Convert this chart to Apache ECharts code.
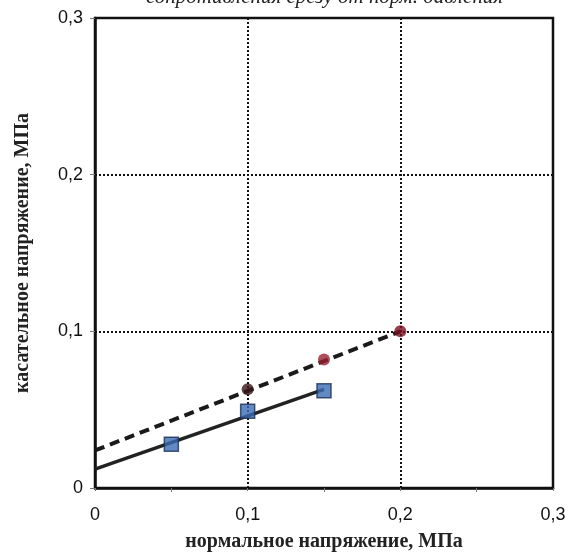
<!DOCTYPE html>
<html><head><meta charset="utf-8">
<script src="https://cdn.jsdelivr.net/npm/echarts@6/dist/echarts.min.js"></script>
<style>html,body{margin:0;padding:0;background:#fff}#c{width:569px;height:557px}</style>
</head><body><div id="c"></div>
<script>
var xTicks = [0, 0.1, 0.2, 0.3];
var yTicks = [0, 0.1, 0.2, 0.3];
var squaresX = [0.05, 0.1, 0.15];
var squaresY = [0.028, 0.049, 0.062];
var circlesX = [0.1, 0.15, 0.2];
var circlesY = [0.063, 0.082, 0.1];
var circleColors = ['#3a1518', '#9a2232', '#7c1020'];
var trendSolidX = [0, 0.15];
var trendSolidY = [0.012, 0.063];
var trendDashX = [0, 0.2];
var trendDashY = [0.024, 0.1];

function pairs(xs, ys){ return xs.map(function(x,i){ return [x, ys[i]]; }); }
function fmt(v){ return String(+v.toFixed(2)).replace('.', ','); }

var chart = echarts.init(document.getElementById('c'));
chart.setOption({
  animation: false,
  backgroundColor: '#fff',
  graphic: [{
    type: 'text', left: 146, top: -13,
    style: { text: 'сопротивления срезу от норм. давления', font: 'italic 21px "Liberation Serif"', fill: '#222' }
  }],
  grid: { left: 95, right: 16, top: 18, bottom: 65, show: true, borderColor: '#111', borderWidth: 2.5 },
  xAxis: {
    type: 'value', min: 0, max: 0.3, interval: 0.1,
    name: 'нормальное напряжение, МПа', nameLocation: 'middle', nameGap: 44,
    nameTextStyle: { fontFamily: 'Liberation Serif', fontWeight: 'bold', fontSize: 20, color: '#222' },
    axisLine: { show: true, lineStyle: { color: '#111', width: 2.5 } },
    axisTick: { show: true, length: 3, lineStyle: { color: '#777' } },
    minorTick: { show: true, splitNumber: 2, length: 4, lineStyle: { color: '#777' } },
    axisLabel: { margin: 18, fontFamily: 'Liberation Sans', fontSize: 18, color: '#111', formatter: fmt },
    splitLine: { show: true, lineStyle: { color: '#111', type: [2, 2], width: 2 } }
  },
  yAxis: {
    type: 'value', min: 0, max: 0.3, interval: 0.1,
    name: 'касательное напряжение, МПа', nameLocation: 'middle', nameGap: 62,
    nameTextStyle: { fontFamily: 'Liberation Serif', fontWeight: 'bold', fontSize: 20, color: '#222' },
    axisLine: { show: true, lineStyle: { color: '#111', width: 2.5 } },
    axisTick: { show: true, inside: false, length: 5, lineStyle: { color: '#777' } },
    axisLabel: { margin: 12, fontFamily: 'Liberation Sans', fontSize: 18, color: '#111', formatter: fmt },
    splitLine: { show: true, lineStyle: { color: '#111', type: [2, 2], width: 2 } }
  },
  series: [
    { type: 'line', data: pairs(trendSolidX, trendSolidY), symbol: 'none',
      lineStyle: { color: '#222', width: 3.5 }, z: 2 },
    { type: 'line', data: pairs(trendDashX, trendDashY), symbol: 'none',
      lineStyle: { color: '#1a1a1a', width: 4, type: [10, 6] }, z: 2 },
    { type: 'scatter', data: pairs(squaresX, squaresY), symbol: 'rect', symbolSize: 14,
      itemStyle: { color: '#3a6db5', borderColor: '#1c2f55', borderWidth: 1.5 }, z: 3 },
    { type: 'scatter', data: pairs(circlesX, circlesY), symbol: 'circle', symbolSize: 12,
      itemStyle: { color: function(p){ return circleColors[p.dataIndex]; } }, z: 3 }
  ]
});
</script></body></html>
